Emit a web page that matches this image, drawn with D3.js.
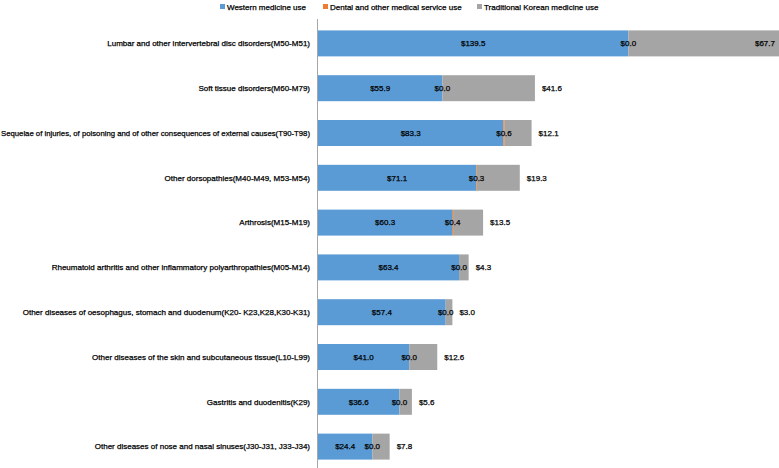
<!DOCTYPE html>
<html>
<head>
<meta charset="utf-8">
<script src="https://cdn.jsdelivr.net/npm/d3@7.9.0/dist/d3.min.js"></script>
<style>
  body { margin: 0; background: #fff; }
  svg text { font-family: "Liberation Sans", Arial, sans-serif; fill: #000; stroke: #000; stroke-width: 0.25px; }
</style>
</head>
<body>
<svg width="779" height="468"></svg>
<script>
const categories = [
  'Lumbar and other intervertebral disc disorders(M50-M51)',
  'Soft tissue disorders(M60-M79)',
  'Sequelae of injuries, of poisoning and of other consequences of external causes(T90-T98)',
  'Other dorsopathies(M40-M49, M53-M54)',
  'Arthrosis(M15-M19)',
  'Rheumatoid arthritis and other inflammatory polyarthropathies(M05-M14)',
  'Other diseases of oesophagus, stomach and duodenum(K20- K23,K28,K30-K31)',
  'Other diseases of the skin and subcutaneous tissue(L10-L99)',
  'Gastritis and duodenitis(K29)',
  'Other diseases of nose and nasal sinuses(J30-J31, J33-J34)'
];
const western = [139.5, 55.9, 83.3, 71.1, 60.3, 63.4, 57.4, 41.0, 36.6, 24.4];
const dental = [0.0, 0.0, 0.6, 0.3, 0.4, 0.0, 0.0, 0.0, 0.0, 0.0];
const korean = [67.7, 41.6, 12.1, 19.3, 13.5, 4.3, 3.0, 12.6, 5.6, 7.8];
const seriesNames = ['Western medicine use', 'Dental and other medical service use', 'Traditional Korean medicine use'];
const colors = ['#5b9bd5', '#ed7d31', '#a5a5a5'];

const W = 779, H = 468;
const FS = 8;
const svg = d3.select('svg');

// build rows for stacking
const rows = categories.map((c, i) => ({ cat: c, w: western[i], d: dental[i], k: korean[i] }));
const keys = ['w', 'd', 'k'];
const stacked = d3.stack().keys(keys)(rows);

const x = d3.scaleLinear().domain([0, 207.2]).range([318, 779]);
const y = d3.scaleBand().domain(categories).range([21, 469]).paddingInner(0.42).paddingOuter(0.21);

const fmt = v => '$' + d3.format('.1f')(v);

// bars
stacked.forEach((s, si) => {
  svg.append('g').selectAll('rect')
    .data(s)
    .join('rect')
    .attr('x', d => x(d[0]))
    .attr('y', d => y(d.data.cat))
    .attr('width', d => x(d[1]) - x(d[0]))
    .attr('height', y.bandwidth())
    .attr('fill', colors[si]);
});

// axis line
svg.append('line')
  .attr('x1', 317.5).attr('x2', 317.5)
  .attr('y1', 19).attr('y2', H)
  .attr('stroke', '#a6a6a6').attr('stroke-width', 1);

// category labels, squeezed if they would run off the left edge
svg.append('g').selectAll('text')
  .data(categories)
  .join('text')
  .attr('x', 310)
  .attr('y', d => y(d) + y.bandwidth() / 2)
  .attr('dy', '0.35em')
  .attr('text-anchor', 'end')
  .attr('font-size', FS)
  .text(d => d)
  .each(function() {
    const len = this.getComputedTextLength();
    if (len > 309) d3.select(this).attr('textLength', 309).attr('lengthAdjust', 'spacingAndGlyphs');
  });

// value labels
const lab = svg.append('g').attr('font-size', FS);
stacked.forEach((s, si) => {
  s.forEach(d => {
    const v = d[1] - d[0];
    const cy = y(d.data.cat) + y.bandwidth() / 2;
    const t = lab.append('text').attr('y', cy).attr('dy', '0.35em').text(fmt(v));
    if (si < 2) {
      t.attr('x', (x(d[0]) + x(d[1])) / 2).attr('text-anchor', 'middle');
    } else {
      const px = x(d[1]) + 7;
      if (px + 26 > W) t.attr('x', W - 4).attr('text-anchor', 'end');
      else t.attr('x', px).attr('text-anchor', 'start');
    }
  });
});

// legend
const legX = [220, 323, 477];
const leg = svg.append('g');
seriesNames.forEach((n, i) => {
  leg.append('rect').attr('x', legX[i]).attr('y', 4).attr('width', 5).attr('height', 5).attr('fill', colors[i]);
  leg.append('text').attr('x', legX[i] + 7).attr('y', 7).attr('dy', '0.35em').attr('font-size', FS).text(n);
});
</script>
</body>
</html>
